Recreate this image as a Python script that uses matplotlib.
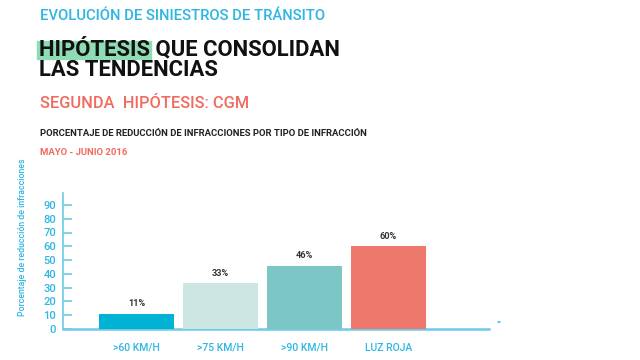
import matplotlib
matplotlib.use("Agg")
import matplotlib.pyplot as plt
from matplotlib.patches import Rectangle, Circle

categories = [">60 KM/H", ">75 KM/H", ">90 KM/H", "LUZ ROJA"]
values = [11, 33, 46, 60]
value_labels = ["11%", "33%", "46%", "60%"]
yticks = [0, 10, 20, 30, 40, 50, 60, 70, 80, 90]
bar_colors = ["#00b2d4", "#cce7e1", "#7cc6c6", "#ee786c"]

plt.rcParams['font.family'] = ['Roboto', 'DejaVu Sans']

CYAN = "#2fb6e2"
AX = "#6ccbe8"
SALMON = "#f06a5e"

fig = plt.figure(figsize=(6.4, 3.6), dpi=100)
W, H = 640, 360

def fx(px):
    return px / W
def fy(py):
    return 1 - py / H

title_kw = dict(color="#111111", fontsize=15.8, fontweight="bold",
                va="center", ha="left", zorder=2)

# measure the highlighted word, then remove the probe text
probe = fig.text(fx(39), fy(49), "HIPÓTESIS", **title_kw)
fig.canvas.draw()
x1 = probe.get_window_extent().x1 / W
probe.remove()
fig.patches.append(Rectangle((fx(37), fy(59)), x1 + 1 / W - fx(37), (59 - 41) / H,
                             transform=fig.transFigure, color="#8fdcb4", zorder=0))

fig.text(fx(40), fy(16), "EVOLUCIÓN DE SINIESTROS DE TRÁNSITO", color=CYAN,
         fontsize=10.6, fontweight="medium", va="center", ha="left")
fig.text(fx(39), fy(49), "HIPÓTESIS QUE CONSOLIDAN", **title_kw)
fig.text(fx(39), fy(70), "LAS TENDENCIAS", **title_kw)
fig.text(fx(40), fy(104), "SEGUNDA  HIPÓTESIS: CGM", color=SALMON,
         fontsize=11.8, fontweight="medium", va="center", ha="left")
fig.text(fx(40), fy(133), "PORCENTAJE DE REDUCCIÓN DE INFRACCIONES POR TIPO DE INFRACCIÓN",
         color="#222222", fontsize=6.8, fontweight="bold", va="center", ha="left")
fig.text(fx(40), fy(152), "MAYO - JUNIO 2016", color=SALMON,
         fontsize=6.8, fontweight="bold", va="center", ha="left")
fig.text(fx(23), fy(237), "Porcentaje de reducción de infracciones", color=CYAN,
         fontsize=6.3, fontweight="medium", rotation=90, va="center", ha="center")

left, right = 63, 489
top, zero = 193, 328.75
ax = fig.add_axes([fx(left), fy(zero), fx(right) - fx(left), (zero - top) / H])
x = list(range(len(categories)))
ax.bar(x, values, width=75 / 84, color=bar_colors, zorder=3)
ax.set_xlim(-0.875, (right - 136.5) / 84)
ax.set_ylim(0, (zero - top) / 1.375)

for xi, v, lab in zip(x, values, value_labels):
    ax.annotate(lab, (xi, v), xytext=(0, 4), textcoords="offset points",
                ha="center", va="bottom", fontsize=6.6, fontweight="bold",
                color="#333333")

for s in ["top", "right"]:
    ax.spines[s].set_visible(False)
ax.spines["left"].set_color(AX)
ax.spines["left"].set_linewidth(1.2)
ax.spines["bottom"].set_color(AX)
ax.spines["bottom"].set_linewidth(1.8)

ax.set_yticks(yticks)
ax.set_yticklabels([str(t) for t in yticks], fontweight="medium")
ax.tick_params(axis="y", direction="in", length=6.5, width=1.2, color=AX,
               labelcolor=CYAN, labelsize=8, pad=5)
ax.set_xticks(x)
ax.set_xticklabels(categories, fontweight="medium")
ax.tick_params(axis="x", length=0, labelcolor=CYAN, labelsize=7.5, pad=10)

fig.patches.append(Circle((fx(499), fy(322)), 1.0 / W, transform=fig.transFigure,
                          color=AX))

fig.savefig("out.png", dpi=100)
